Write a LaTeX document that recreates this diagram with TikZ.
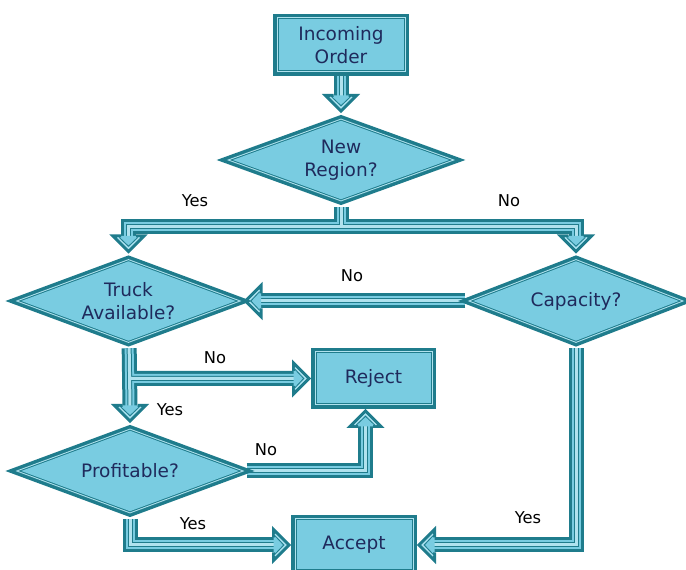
\documentclass[tikz,border=0pt]{standalone}
\usepackage{fontspec}
\setmainfont{DejaVu Sans}
\usetikzlibrary{shapes.geometric,calc}
\pgfdeclarelayer{canvas}
\pgfdeclarelayer{links}
\pgfsetlayers{canvas,links,main}

\definecolor{edge}{HTML}{1F7C8C}
\definecolor{boxfill}{HTML}{79CCE1}
\definecolor{sheen}{HTML}{B0E2EE}
\definecolor{ink}{HTML}{1F2A5C}

\tikzset{
  % thick outer rim, thin light line, thin dark line, then the fill
  flowshape/.style={draw=edge, line width=11pt, line join=miter, text=ink,
    font=\fontsize{18.5}{22.5}\selectfont, align=center,
    postaction={draw=sheen, line width=4pt, line join=miter},
    postaction={draw=edge, line width=2pt, line join=miter},
    postaction={fill=boxfill}},
  procbox/.style={flowshape, rectangle},
  decision/.style={flowshape, diamond, aspect=2.75, inner sep=0pt},
  % hollow block-arrow shaft
  fatline/.style={draw=edge, line width=15pt, line join=miter, line cap=butt,
    postaction={draw=boxfill, line width=9pt, line join=miter},
    postaction={draw=edge, line width=5pt, line join=miter},
    postaction={draw=sheen, line width=3pt, line join=miter}},
  branchlabel/.style={font=\fontsize{16.3}{19}\selectfont, text=black},
  % arrow head pointing along +x, its tip at the origin
  fathead/.pic={
    \fill[boxfill] (-2,0) -- (-17.5,15.5) -- (-17.5,-15.5) -- cycle;
    \draw[edge, line width=3pt, line join=miter]
      (-17.5,7.5) -- (-17.5,15.5) -- (-2,0) -- (-17.5,-15.5) -- (-17.5,-7.5);
    \draw[sheen, line width=1pt] (-16,10.9) -- (-5.1,0) -- (-16,-10.9);
    \draw[edge, line width=0.8pt] (-16,9.2) -- (-7.3,0) -- (-16,-9.2);
  }
}

\begin{document}
\begin{tikzpicture}[x=1pt, y=1pt]
  \useasboundingbox (0,0) rectangle (686,570);
  \begin{pgfonlayer}{canvas}
    \fill[white] (0,0) rectangle (686,570);
  \end{pgfonlayer}

  % steps and decisions
  \node[procbox, minimum width=125pt, minimum height=51pt] (order) at (341,525) {Incoming\\Order};
  \node[decision, minimum width=221pt, minimum height=83pt] (region) at (341,410) {New\\Region?};
  \node[decision, minimum width=219pt, minimum height=84pt] (truck) at (128.5,269) {Truck\\Available?};
  \node[decision, minimum width=210pt, minimum height=84pt] (capacity) at (576,269) {Capacity?};
  \node[procbox, minimum width=114pt, minimum height=50pt] (reject) at (373.5,191.5) {Reject};
  \node[decision, minimum width=222pt, minimum height=85pt] (profit) at (130,99) {Profitable?};
  \node[procbox, minimum width=115pt, minimum height=49pt] (accept) at (354,25) {Accept};

  \coordinate (split) at ($(region.south)+(0,-20)$);

  % connectors, kept behind the shapes
  \begin{pgfonlayer}{links}
    \draw[fatline] (order) -- ($(region.north)+(0,16)$);
    \pic[rotate=-90] at (region.north) {fathead};

    \draw[fatline] (region) -- (split) -| ($(truck.north)+(0,16)$)
                   (split) -| ($(capacity.north)+(0,16)$);
    \pic[rotate=-90] at (truck.north) {fathead};
    \pic[rotate=-90] at (capacity.north) {fathead};

    \draw[fatline] (capacity) -- ($(truck.east)+(16,0)$);
    \pic[rotate=180] at (truck.east) {fathead};

    \draw[fatline] (truck) -- ($(profit.north)+(0,16)$)
                   (truck |- reject.west) -- ($(reject.west)+(-16,0)$);
    \pic[rotate=-90] at (profit.north) {fathead};
    \pic at (reject.west) {fathead};

    \draw[fatline] (profit) -| ($(reject.south)+(-8,-16)$);
    \pic[rotate=90] at ($(reject.south)+(-8,0)$) {fathead};

    \draw[fatline] (profit) |- ($(accept.west)+(-16,0)$);
    \pic at (accept.west) {fathead};

    \draw[fatline] (capacity) |- ($(accept.east)+(16,0)$);
    \pic[rotate=180] at (accept.east) {fathead};
  \end{pgfonlayer}

  % branch labels
  \node[branchlabel] (yesregion) at (195,369) {Yes};
  \node[branchlabel] (noregion) at (509,369) {No};
  \node[branchlabel] (nocapacity) at (352,294) {No};
  \node[branchlabel] (notruck) at (215,212) {No};
  \node[branchlabel] (yestruck) at (170,160) {Yes};
  \node[branchlabel] (noprofit) at (266,120) {No};
  \node[branchlabel] (yesprofit) at (193,46) {Yes};
  \node[branchlabel] (yescapacity) at (528,52) {Yes};
\end{tikzpicture}
\end{document}
